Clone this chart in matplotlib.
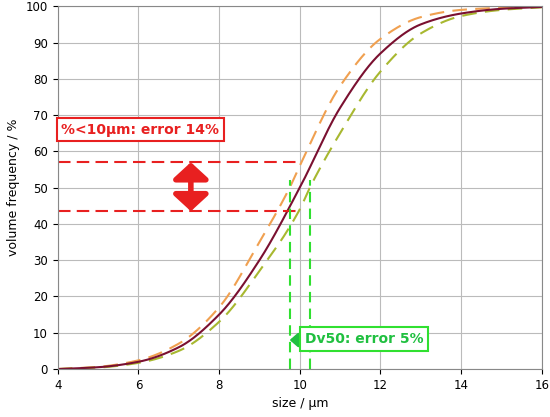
import numpy as np
import matplotlib
matplotlib.use("Agg")
import matplotlib.pyplot as plt

x_main = [4, 5, 6, 7, 8, 9, 10, 11, 12, 13, 14, 15, 16]
y_main = [0, 0.5, 2, 6, 15, 30, 50, 72, 87, 95, 98, 99.3, 99.8]
x_lo = [4, 5, 6, 7, 8, 9, 9.75, 10, 11, 12, 13, 14, 15, 16]
y_lo = [0, 0.6, 2.4, 7, 17, 35, 50, 56, 78, 91, 97, 99, 99.6, 100]
x_hi = [4, 5, 6, 7, 8, 9, 10, 10.25, 11, 12, 13, 14, 15, 16]
y_hi = [0, 0.4, 1.7, 5, 13, 27, 44, 50, 65, 82, 92.5, 97.3, 99, 99.7]
pct_levels = [57, 43.5]
dv50_sizes = [9.75, 10.25]

def pchip(x, y, xs):
    x = np.asarray(x, float); y = np.asarray(y, float)
    h = np.diff(x); d = np.diff(y) / h
    m = np.zeros_like(y)
    for k in range(1, len(x) - 1):
        if d[k-1] * d[k] > 0:
            w1 = 2*h[k] + h[k-1]; w2 = h[k] + 2*h[k-1]
            m[k] = (w1 + w2) / (w1/d[k-1] + w2/d[k])
    m[0] = d[0]; m[-1] = d[-1]
    idx = np.clip(np.searchsorted(x, xs) - 1, 0, len(x) - 2)
    t = (xs - x[idx]) / h[idx]
    h00 = 2*t**3 - 3*t**2 + 1; h10 = t**3 - 2*t**2 + t
    h01 = -2*t**3 + 3*t**2; h11 = t**3 - t**2
    return h00*y[idx] + h10*h[idx]*m[idx] + h01*y[idx+1] + h11*h[idx]*m[idx+1]

xs = np.linspace(4, 16, 600)
fig, ax = plt.subplots(figsize=(5.5, 4.17), dpi=100)
fig.subplots_adjust(left=0.105, right=0.985, top=0.985, bottom=0.115)
ax.plot(xs, pchip(x_lo, y_lo, xs), color='#f0a050', lw=1.5, ls=(0, (7, 4)))
ax.plot(xs, pchip(x_hi, y_hi, xs), color='#a8b830', lw=1.5, ls=(0, (7, 4)))
ax.plot(xs, pchip(x_main, y_main, xs), color='#7a1030', lw=1.5)

for lv in pct_levels:
    ax.plot([4, 10], [lv, lv], color='#e82020', lw=1.5, ls=(0, (6, 3)))
for s in dv50_sizes:
    ax.plot([s, s], [0, 52], color='#30e030', lw=1.5, ls=(0, (5, 3)))

ax.annotate('', xy=(7.3, pct_levels[0]), xytext=(7.3, pct_levels[1]),
            arrowprops=dict(arrowstyle='<|-|>,head_width=0.6,head_length=0.55', mutation_scale=18,
                            color='#e82020', lw=4, shrinkA=0, shrinkB=0))
ax.annotate('', xy=(dv50_sizes[1], 8), xytext=(dv50_sizes[0], 8),
            arrowprops=dict(arrowstyle='<|-|>,head_width=0.35,head_length=0.4', mutation_scale=12,
                            color='#20c040', lw=2, shrinkA=0, shrinkB=0))

ax.text(6.05, 66, '%<10µm: error 14%', color='#e82020', fontsize=10, fontweight='bold', ha='center', va='center',
        bbox=dict(boxstyle='square,pad=0.35', fc='white', ec='#e82020', lw=1.5))
ax.text(11.6, 8.3, 'Dv50: error 5%', color='#20c040', fontsize=10, fontweight='bold', ha='center', va='center',
        bbox=dict(boxstyle='square,pad=0.35', fc='white', ec='#30e030', lw=1.5))

ax.set_xlim(4, 16); ax.set_ylim(0, 100)
ax.set_xticks(range(4, 17, 2)); ax.set_yticks(range(0, 101, 10))
ax.grid(True, color='#bbbbbb', lw=0.8)
ax.set_axisbelow(True)
ax.tick_params(labelsize=8.5)
ax.set_xlabel('size / µm', fontsize=9)
ax.set_ylabel('volume frequency / %', fontsize=9)
for sp in ax.spines.values():
    sp.set_color('#888888')
fig.savefig('out.png')
